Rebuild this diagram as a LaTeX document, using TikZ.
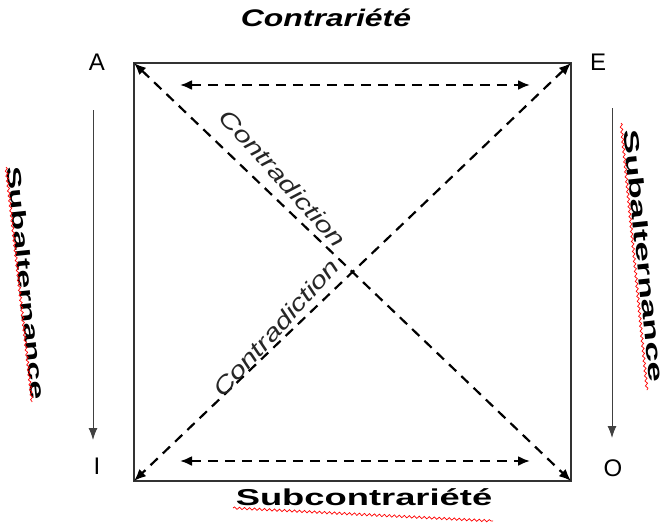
\documentclass[tikz,border=0pt]{standalone}
\usepackage{fontspec}
\setmainfont{Liberation Sans}
\usetikzlibrary{arrows.meta,decorations.pathmorphing}
\begin{document}
\begin{tikzpicture}[x=1pt,y=-1pt,
  edge/.style={line width=2.4pt,draw=black!80},
  dsh/.style={line width=2.2pt,dash pattern=on 10pt off 7pt},
  tip/.style={{Latex[length=12pt,width=10pt]}-{Latex[length=12pt,width=10pt]}},
  onetip/.style={-{Latex[length=12pt,width=9pt]}},
  corner/.style={font=\fontsize{24}{28}\selectfont},
  wavy/.style={red,line width=0.7pt,decorate,decoration={snake,amplitude=1.2pt,segment length=5pt}},
  lbl/.style={inner sep=0pt}]
\useasboundingbox (0,0) rectangle (662,525);
% corners
\coordinate (A) at (134,63);
\coordinate (E) at (571,63);
\coordinate (O) at (571,481);
\coordinate (I) at (134,481);
\draw[edge] (A) -- (E) -- (O) -- (I) -- cycle;
% diagonals
\draw[dsh,tip] (A) -- (O);
\draw[dsh,tip] (E) -- (I);
% contrariety / subcontrariety arrows
\coordinate (t1) at (180,85); \coordinate (t2) at (530,85);
\coordinate (b1) at (180,461); \coordinate (b2) at (530,461);
\draw[dsh,tip] (t1) -- (t2);
\draw[dsh,tip] (b1) -- (b2);
% subalternation arrows
\coordinate (l1) at (93,110); \coordinate (l2) at (93,440);
\coordinate (r1) at (612,108); \coordinate (r2) at (612,438);
\draw[line width=1pt,draw=black!75,onetip] (l1) -- (l2);
\draw[line width=1pt,draw=black!75,onetip] (r1) -- (r2);
% corner labels
\node[corner] (lA) at (97,62) {A};
\node[corner] (lE) at (598,62) {E};
\node[corner] (lI) at (97,466) {I};
\node[corner] (lO) at (613,468) {O};
% titles
\node[lbl] (contr) at (326,18) {\scalebox{1.33}[1]{\fontsize{24}{28}\selectfont\bfseries\itshape Contrariété}};
\node[lbl] (subc) at (364,497) {\scalebox{1.58}[1]{\fontsize{23}{27}\selectfont\bfseries Subcontrariété}};
\coordinate (sw1) at (233,508); \coordinate (sw2) at (493,521);
\draw[wavy] (sw1) -- (sw2);
% subalternance
\node[lbl,rotate=-84] (subl) at (26,283) {\scalebox{1.7}[1]{\fontsize{20}{24}\selectfont\bfseries Subalternance}};
\coordinate (lw1) at (6,167); \coordinate (lw2) at (32,402);
\draw[wavy] (lw1) -- (lw2);
\node[lbl,rotate=-84] (subr) at (644,256) {\scalebox{1.75}[1]{\fontsize{21}{25}\selectfont\bfseries Subalternance}};
\coordinate (rw1) at (621,123); \coordinate (rw2) at (647,390);
\draw[wavy] (rw1) -- (rw2);
% contradiction
\node[lbl,rotate=-48,text=black!85] (cd1) at (283,178) {\scalebox{1.3}[1]{\fontsize{23}{27}\selectfont\itshape Contradiction}};
\node[lbl,rotate=48,text=black!85] (cd2) at (276,328) {\scalebox{1.3}[1]{\fontsize{23}{27}\selectfont\itshape Contradiction}};
\end{tikzpicture}
\end{document}
